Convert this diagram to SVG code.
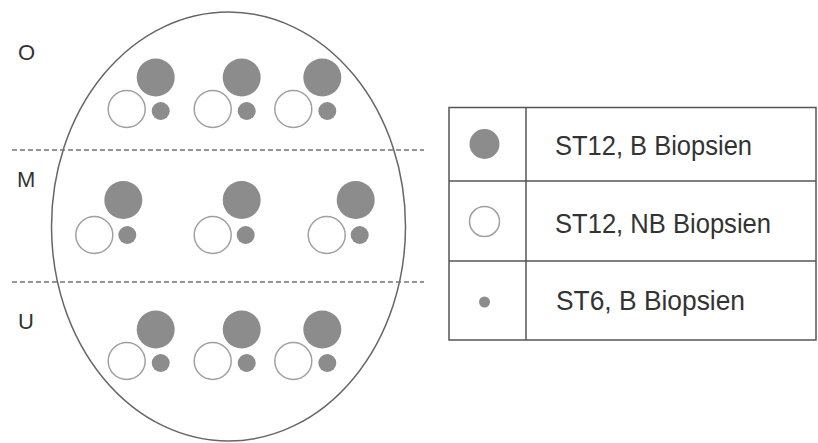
<svg xmlns="http://www.w3.org/2000/svg" width="818" height="443" viewBox="0 0 818 443">
<style>
.big{fill:#8c8c8c;}
.nb{fill:#ffffff;stroke:#a0a0a0;stroke-width:1.5;}
.sm{fill:#8c8c8c;}
.lbl{font-family:"Liberation Sans",Arial,sans-serif;font-size:22px;fill:#333;}
.lt{font-family:"Liberation Sans",Arial,sans-serif;font-size:27px;fill:#333;}
.dash{stroke:#777;stroke-width:1.5;stroke-dasharray:5,3;fill:none;}
.frame{stroke:#555;stroke-width:1.5;fill:none;}
</style>
<defs>
<g id="cluster">
<circle class="big" cx="29" cy="-31.5" r="19"/>
<circle class="nb" cx="0" cy="0" r="18.5"/>
<circle class="sm" cx="34" cy="2" r="9"/>
</g>
<g id="clusterM">
<circle class="big" cx="29" cy="-35" r="19"/>
<circle class="nb" cx="0" cy="0" r="18.5"/>
<circle class="sm" cx="33" cy="0" r="9"/>
</g>
</defs>
<rect width="818" height="443" fill="#ffffff"/>
<g id="organ">
<ellipse cx="228.5" cy="226.5" rx="177" ry="214.5" fill="none" stroke="#666" stroke-width="1.5"/>
</g>
<g id="connectors">
<line class="dash" x1="12" y1="150" x2="424" y2="150"/>
<line class="dash" x1="12" y1="282" x2="424" y2="282"/>
</g>
<g id="labels">
<text class="lbl" x="18" y="60">O</text>
<text class="lbl" x="17" y="187">M</text>
<text class="lbl" x="18" y="329">U</text>
</g>
<g id="row-O">
<use href="#cluster" x="126.7" y="109"/>
<use href="#cluster" x="212.7" y="109"/>
<use href="#cluster" x="293.3" y="109"/>
</g>
<g id="row-M">
<use href="#clusterM" x="94.3" y="235"/>
<use href="#clusterM" x="212.7" y="235"/>
<use href="#clusterM" x="326.7" y="235"/>
</g>
<g id="row-U">
<use href="#cluster" x="126.7" y="361"/>
<use href="#cluster" x="212.7" y="361"/>
<use href="#cluster" x="293.3" y="361"/>
</g>
<g id="legend">
<rect class="frame" x="449" y="107.5" width="367" height="232.5"/>
<line class="frame" x1="526" y1="107.5" x2="526" y2="340"/>
<line class="frame" x1="449" y1="181" x2="816" y2="181"/>
<line class="frame" x1="449" y1="261" x2="816" y2="261"/>
<circle class="big" cx="484.5" cy="144" r="15"/>
<circle class="nb" cx="484.5" cy="221.5" r="15"/>
<circle class="sm" cx="484.5" cy="302" r="5.5"/>
<text class="lt" x="555" y="155" textLength="197" lengthAdjust="spacingAndGlyphs">ST12, B Biopsien</text>
<text class="lt" x="555" y="233" textLength="216" lengthAdjust="spacingAndGlyphs">ST12, NB Biopsien</text>
<text class="lt" x="556" y="310" textLength="189" lengthAdjust="spacingAndGlyphs">ST6, B Biopsien</text>
</g>
</svg>
